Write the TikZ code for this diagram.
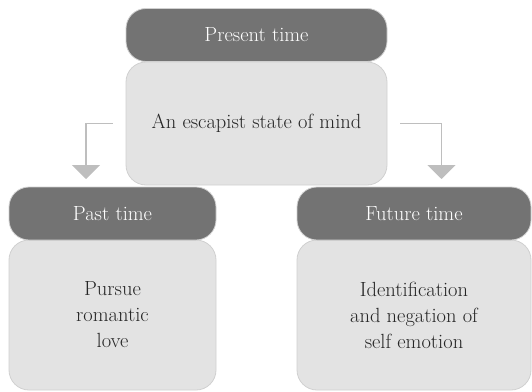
\documentclass[tikz,border=0pt]{standalone}
\usepackage{fontspec}
\usetikzlibrary{arrows.meta}
\definecolor{headgray}{HTML}{737373}
\definecolor{bodygray}{HTML}{E3E3E3}
\definecolor{edgegray}{HTML}{D0D0D0}
\definecolor{linkgray}{HTML}{BEBEBE}
\begin{document}
\begin{tikzpicture}[x=1pt, y=-1pt,
    every node/.style = {shape=rectangle, rounded corners=20pt, align=center, inner sep=0pt,
                        font=\fontsize{20.5}{26}\selectfont},
    head/.style = {fill=headgray, draw=edgegray, line width=0.8pt, text=white, minimum height=53pt},
    body/.style = {fill=bodygray, draw=edgegray, line width=0.8pt, text=black!85},
    link/.style = {draw=linkgray, line width=1.5pt, -{Triangle[width=28pt,length=14pt]}}]
    \useasboundingbox (0,0) rectangle (532,391);
    % top block
    \node[body, minimum width=261pt, minimum height=123pt] (escape) at (256.5,123.5) {An escapist state of mind};
    \node[head, minimum width=261pt] (present) at (256.5,35) {Present time};
    % lower blocks
    \node[body, minimum width=207pt, minimum height=150pt] (pursue) at (112.5,315) {Pursue\\romantic\\love};
    \node[head, minimum width=207pt] (past) at (112.5,213.5) {Past time};
    \node[body, minimum width=234pt, minimum height=150pt] (identify) at (414,315) {Identification\\and negation of\\self emotion};
    \node[head, minimum width=234pt] (future) at (414,213.5) {Future time};
    % arrows
    \coordinate (ltip) at (86,179);
    \coordinate (rtip) at (441.5,179);
    \draw[link] ([xshift=-13pt]escape.west) -| (ltip);
    \draw[link] ([xshift=13pt]escape.east) -| (rtip);
\end{tikzpicture}
\end{document}
